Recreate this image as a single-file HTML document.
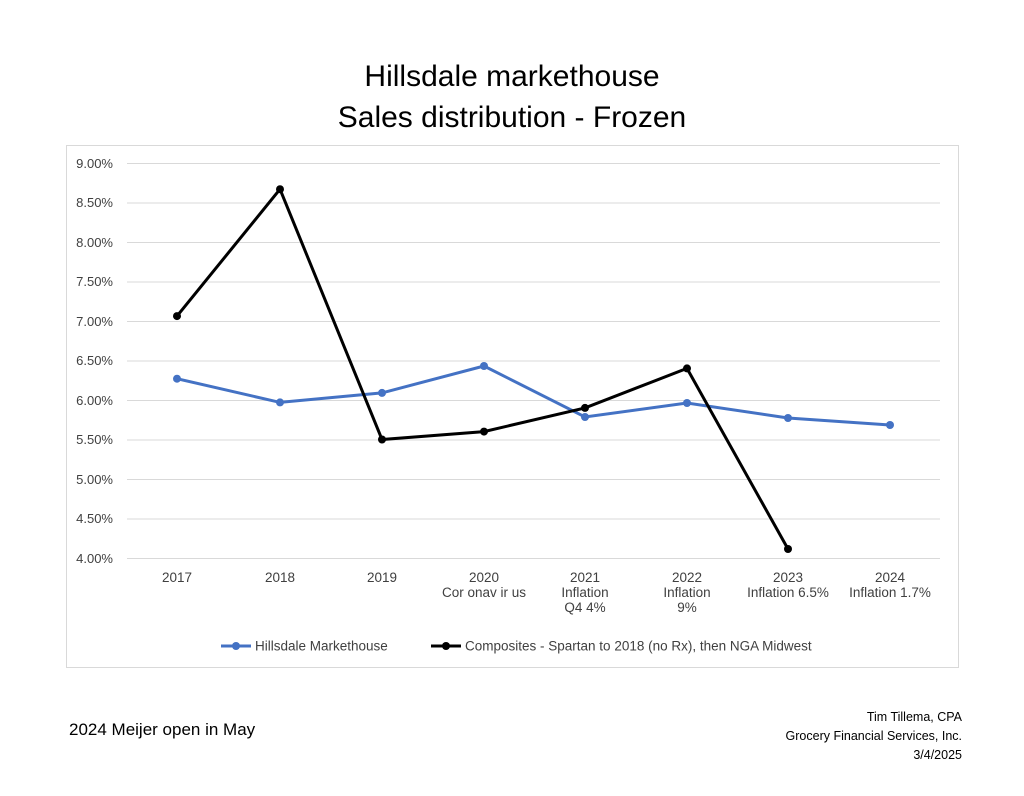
<!DOCTYPE html>
<html><head><meta charset="utf-8"><style>
body{margin:0;background:#fff;width:1024px;height:791px;overflow:hidden;font-family:"Liberation Sans",sans-serif}
</style></head><body>
<svg width="1024" height="791" viewBox="0 0 1024 791" xmlns="http://www.w3.org/2000/svg" font-family="Liberation Sans, sans-serif">
<text x="512" y="86" font-size="30" text-anchor="middle" fill="#000">Hillsdale markethouse</text>
<text x="512" y="127" font-size="30" text-anchor="middle" fill="#000">Sales distribution - Frozen</text>
<rect x="66.5" y="145.5" width="892" height="522" fill="#fff" stroke="#d9d9d9"/>
<g stroke="#d9d9d9" stroke-width="1">
<line x1="127" x2="940" y1="163.5" y2="163.5"/><line x1="127" x2="940" y1="203" y2="203"/>
<line x1="127" x2="940" y1="242.5" y2="242.5"/><line x1="127" x2="940" y1="282" y2="282"/>
<line x1="127" x2="940" y1="321.5" y2="321.5"/><line x1="127" x2="940" y1="361" y2="361"/>
<line x1="127" x2="940" y1="400.5" y2="400.5"/><line x1="127" x2="940" y1="440" y2="440"/>
<line x1="127" x2="940" y1="479.5" y2="479.5"/><line x1="127" x2="940" y1="519" y2="519"/>
<line x1="127" x2="940" y1="558.5" y2="558.5"/>
</g>
<g font-size="13" text-anchor="end" fill="#404040">
<text x="113" y="168">9.00%</text><text x="113" y="207">8.50%</text><text x="113" y="247">8.00%</text>
<text x="113" y="286">7.50%</text><text x="113" y="326">7.00%</text><text x="113" y="365">6.50%</text>
<text x="113" y="405">6.00%</text><text x="113" y="444">5.50%</text><text x="113" y="484">5.00%</text>
<text x="113" y="523">4.50%</text><text x="113" y="563">4.00%</text>
</g>
<g font-size="13.5" text-anchor="middle" fill="#404040">
<text x="177" y="582">2017</text><text x="280" y="582">2018</text><text x="382" y="582">2019</text>
<text x="484" y="582">2020</text><text x="484" y="597">Cor onav ir us</text>
<text x="585" y="582">2021</text><text x="585" y="597">Inflation</text><text x="585" y="612">Q4 4%</text>
<text x="687" y="582">2022</text><text x="687" y="597">Inflation</text><text x="687" y="612">9%</text>
<text x="788" y="582">2023</text><text x="788" y="597">Inflation 6.5%</text>
<text x="890" y="582">2024</text><text x="890" y="597">Inflation 1.7%</text>
</g>
<polyline fill="none" stroke="#4472c4" stroke-width="3" points="177,378.7 280,402.4 382,392.9 484,366 585,417 687,403 788,418 890,425"/>
<g fill="#4472c4"><circle cx="177" cy="378.7" r="4"/><circle cx="280" cy="402.4" r="4"/><circle cx="382" cy="392.9" r="4"/><circle cx="484" cy="366" r="4"/><circle cx="585" cy="417" r="4"/><circle cx="687" cy="403" r="4"/><circle cx="788" cy="418" r="4"/><circle cx="890" cy="425" r="4"/></g>
<polyline fill="none" stroke="#000" stroke-width="3" points="177,316.1 280,189.2 382,439.5 484,431.6 585,407.9 687,368.4 788,549"/>
<g fill="#000"><circle cx="177" cy="316.1" r="4"/><circle cx="280" cy="189.2" r="4"/><circle cx="382" cy="439.5" r="4"/><circle cx="484" cy="431.6" r="4"/><circle cx="585" cy="407.9" r="4"/><circle cx="687" cy="368.4" r="4"/><circle cx="788" cy="549" r="4"/></g>
<line x1="221" x2="251" y1="646" y2="646" stroke="#4472c4" stroke-width="3"/><circle cx="236" cy="646" r="4" fill="#4472c4"/>
<text x="255" y="650.5" font-size="13.5" fill="#404040">Hillsdale Markethouse</text>
<line x1="431" x2="461" y1="646" y2="646" stroke="#000" stroke-width="3"/><circle cx="446" cy="646" r="4" fill="#000"/>
<text x="465" y="650.5" font-size="13.5" fill="#404040">Composites - Spartan to 2018 (no Rx), then NGA Midwest</text>
<text x="69" y="735" font-size="17" fill="#000">2024 Meijer open in May</text>
<g font-size="12.5" text-anchor="end" fill="#000">
<text x="962" y="721">Tim Tillema, CPA</text>
<text x="962" y="740">Grocery Financial Services, Inc.</text>
<text x="962" y="759">3/4/2025</text>
</g>
</svg>
</body></html>
